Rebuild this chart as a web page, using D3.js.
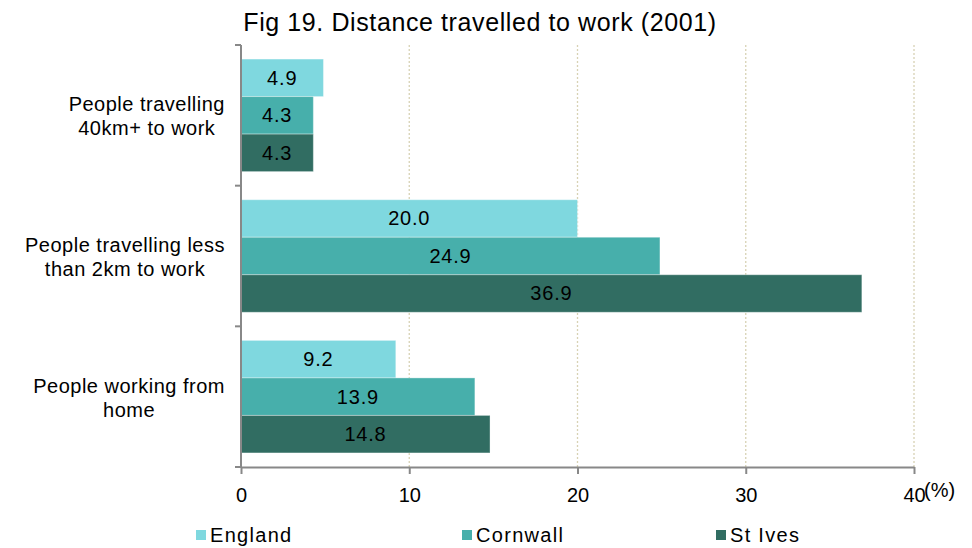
<!doctype html>
<html>
<head>
  <meta charset="utf-8">
  <title>Fig 19</title>
  <style>
    body { margin: 0; background: #fff; }
    svg text { font-family: "Liberation Sans", Arial, sans-serif; fill: #000; }
  </style>
</head>
<body>
  <div id="chart"></div>
  <script src="https://d3js.org/d3.v7.min.js"></script>
  <script>
    const categories = ['People travelling 40km+ to work', 'People travelling less than 2km to work', 'People working from home'];
    const categoryLines = [['People travelling', '40km+ to work'], ['People travelling less', 'than 2km to work'], ['People working from', 'home']];
    const seriesNames = ['England', 'Cornwall', 'St Ives'];
    const england = [4.9, 20.0, 9.2];
    const cornwall = [4.3, 24.9, 13.9];
    const stIves = [4.3, 36.9, 14.8];
    const xTicks = [0, 10, 20, 30, 40];
    const colors = ['#7fd8df', '#47afab', '#316d62'];

    const W = 972, H = 548;
    const plotLeft = 241, plotRight = 914, plotTop = 45, plotBottom = 467;

    const svg = d3.select('#chart').append('svg').attr('width', W).attr('height', H);

    const x = d3.scaleLinear().domain([0, 40]).range([plotLeft, plotRight]);
    const y = d3.scaleBand().domain(categories).range([plotTop, plotBottom]).paddingInner(0.2).paddingOuter(0.1);
    const yOuter = d3.scaleBand().domain(categories).range([plotTop, plotBottom]);
    const ySeries = d3.scaleBand().domain(seriesNames).range([0, y.bandwidth()]);

    // title
    svg.append('text').attr('x', 480).attr('y', 31).attr('text-anchor', 'middle')
      .style('font-size', '25px').style('letter-spacing', '0.6px')
      .text('Fig 19. Distance travelled to work (2001)');

    // gridlines
    svg.append('g').selectAll('line').data(xTicks.slice(1)).join('line')
      .attr('x1', d => x(d)).attr('x2', d => x(d)).attr('y1', plotTop).attr('y2', plotBottom)
      .attr('stroke', '#d8d2b4').attr('stroke-width', 1.3).attr('stroke-dasharray', '2,2');

    // bars
    const rows = categories.map((c, i) => ({ cat: c, values: [england[i], cornwall[i], stIves[i]] }));
    const groups = svg.append('g').selectAll('g').data(rows).join('g')
      .attr('transform', d => `translate(0,${y(d.cat)})`);
    groups.selectAll('rect').data(d => d.values.map((v, j) => ({ v, s: seriesNames[j], j })))
      .join('rect')
      .attr('x', x(0)).attr('y', d => ySeries(d.s))
      .attr('width', d => x(d.v) - x(0)).attr('height', ySeries.bandwidth())
      .attr('fill', d => colors[d.j])
      .attr('stroke', 'rgba(255,255,255,0.35)').attr('stroke-width', 1);
    groups.selectAll('text').data(d => d.values.map((v, j) => ({ v, s: seriesNames[j] })))
      .join('text')
      .attr('x', d => (x(d.v) + x(0)) / 2).attr('y', d => ySeries(d.s) + ySeries.bandwidth() / 2 + 7)
      .attr('text-anchor', 'middle').style('font-size', '20px').style('letter-spacing', '0.8px')
      .text(d => d3.format('.1f')(d.v));

    // x axis
    const xAxis = svg.append('g').attr('transform', `translate(0,${plotBottom})`)
      .call(d3.axisBottom(x).tickValues(xTicks).tickSize(7).tickSizeOuter(0).tickPadding(14));
    xAxis.select('.domain').attr('stroke', '#888').attr('stroke-width', 2);
    xAxis.selectAll('.tick line').attr('stroke', '#888').attr('stroke-width', 2);
    xAxis.selectAll('.tick text').style('font-size', '20px').style('font-family', '"Liberation Sans", Arial, sans-serif').attr('fill', '#000');
    svg.append('text').attr('x', 924).attr('y', 497).style('font-size', '20px').text('(%)');

    // y axis
    svg.append('line').attr('x1', plotLeft).attr('x2', plotLeft).attr('y1', plotTop).attr('y2', plotBottom)
      .attr('stroke', '#888').attr('stroke-width', 2);
    svg.append('g').selectAll('line').data(categories.concat([null])).join('line')
      .attr('x1', plotLeft - 6).attr('x2', plotLeft)
      .attr('y1', (d, i) => i < categories.length ? yOuter(d) : plotBottom)
      .attr('y2', (d, i) => i < categories.length ? yOuter(d) : plotBottom)
      .attr('stroke', '#888').attr('stroke-width', 2);

    // category labels: lines centred within a block, block right edge at 225
    const labelRight = 225;
    const labels = svg.append('g').selectAll('text').data(categories).join('text')
      .attr('y', d => yOuter(d) + yOuter.bandwidth() / 2 - 4)
      .attr('text-anchor', 'middle').style('font-size', '20px').style('letter-spacing', '0.5px');
    labels.selectAll('tspan').data((d, i) => categoryLines[i]).join('tspan')
      .attr('dy', (d, i) => i === 0 ? 0 : 24).text(d => d);
    labels.each(function () {
      const spans = d3.select(this).selectAll('tspan');
      const maxW = d3.max(spans.nodes(), n => n.getComputedTextLength());
      spans.attr('x', labelRight - maxW / 2);
    });

    // legend
    const legendX = [196, 462, 716];
    const lg = svg.append('g').selectAll('g').data(seriesNames).join('g')
      .attr('transform', (d, i) => `translate(${legendX[i]},530)`);
    lg.append('rect').attr('width', 10).attr('height', 10).attr('fill', (d, i) => colors[i]);
    lg.append('text').attr('x', 14).attr('y', 12).style('font-size', '20px').style('letter-spacing', '1.3px').text(d => d);
  </script>
</body>
</html>
